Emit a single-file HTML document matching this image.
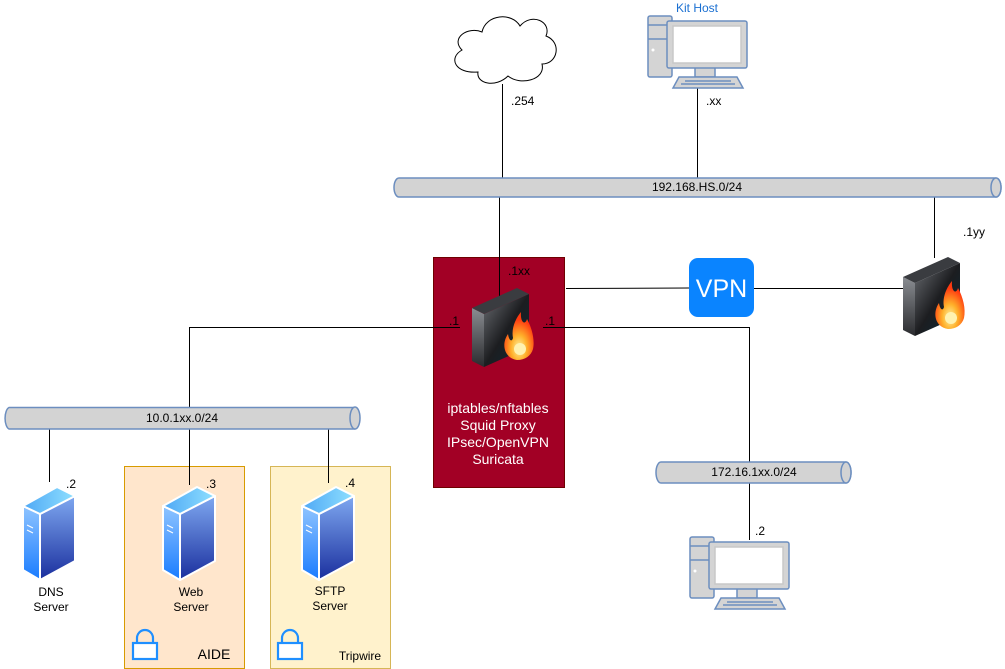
<!DOCTYPE html>
<html><head><meta charset="utf-8"><style>
html,body{margin:0;padding:0;background:#fff;}
svg{display:block;font-family:"Liberation Sans",Arial,sans-serif;}
</style></head><body>
<svg width="1005" height="669" viewBox="0 0 1005 669" xmlns="http://www.w3.org/2000/svg">
<defs>
<linearGradient id="srvF" x1="0" y1="0" x2="0" y2="1"><stop offset="0" stop-color="#7fa8f0"/><stop offset="1" stop-color="#1a2f9e"/></linearGradient>
<linearGradient id="srvL" x1="0" y1="0" x2="0" y2="1"><stop offset="0" stop-color="#8fc4ff"/><stop offset="1" stop-color="#1a7cff"/></linearGradient>
<linearGradient id="srvT" x1="0" y1="0" x2="1" y2="0"><stop offset="0" stop-color="#4fa8f5"/><stop offset="1" stop-color="#8fe0ff"/></linearGradient>
<linearGradient id="fwF" x1="0" y1="0" x2="1" y2="1"><stop offset="0" stop-color="#6a6d72"/><stop offset="0.5" stop-color="#1c1d20"/><stop offset="1" stop-color="#0a2a38"/></linearGradient>
<linearGradient id="fwL" x1="0" y1="0" x2="0" y2="1"><stop offset="0" stop-color="#8a8d92"/><stop offset="1" stop-color="#2a2b2e"/></linearGradient>
<radialGradient id="flame" cx="0.5" cy="0.75" r="0.6"><stop offset="0" stop-color="#fff3a0"/><stop offset="0.45" stop-color="#ffb02a"/><stop offset="1" stop-color="#ff3a10"/></radialGradient>
<g id="fw">
<polygon points="1,20 13,26 13,79 1,73" fill="url(#fwL)"/>
<polygon points="13,26 58,6 58,59 13,79" fill="url(#fwF)"/>
<polygon points="1,20 46,0 58,6 13,26" fill="#3a3c40"/>
<path d="M46,72 C33,70 30,56 37,46 C38,53 41,54 42,50 C40,40 45,30 50,24 C49,34 54,38 56,31 C61,40 64,52 62,61 C60,68 54,72 46,72 Z" fill="url(#flame)"/>
<ellipse cx="49" cy="61" rx="6" ry="6" fill="#fff2b0"/>
</g>
<g id="srv">
<polygon points="1,19 18,27 18,93 1,83" fill="url(#srvL)" stroke="#fff" stroke-width="2" stroke-linejoin="round"/>
<polygon points="18,27 53,9 53,74 18,93" fill="url(#srvF)" stroke="#fff" stroke-width="2" stroke-linejoin="round"/>
<polygon points="1,19 35,0 53,9 18,27" fill="url(#srvT)" stroke="#fff" stroke-width="2" stroke-linejoin="round"/>
<line x1="5" y1="38" x2="11" y2="41" stroke="#fff" stroke-width="1"/>
<line x1="5" y1="43" x2="11" y2="46" stroke="#fff" stroke-width="1"/>
</g>
<g id="pc" stroke="#6c8ebf" stroke-width="1.5" fill="#d4d4d4">
<rect x="1" y="1" width="24" height="61" rx="2"/>
<line x1="1" y1="10" x2="25" y2="10"/>
<line x1="1" y1="24" x2="25" y2="24"/>
<circle cx="6" cy="35" r="1.5" fill="#fff" stroke="none"/>
<rect x="48" y="52" width="20" height="10"/>
<rect x="20" y="6" width="80" height="47" rx="2"/>
<rect x="26" y="11" width="68" height="37" fill="#fff" stroke="#c8c8c8"/>
<polygon points="32,62 90,62 96,73 26,73"/>
<line x1="38" y1="66" x2="84" y2="66"/>
<line x1="34" y1="69" x2="88" y2="69"/>
</g>
<g id="lock" fill="none" stroke="#1f8fff" stroke-width="2.2">
<path d="M5,15 V10 A8,8 0 0 1 21,10 V15"/>
<rect x="1" y="15" width="24" height="16" fill="#fff"/>
</g>
</defs>

<rect x="124.5" y="466.5" width="120" height="202" fill="#ffe6cc" stroke="#d79b00"/>
<rect x="270.5" y="466.5" width="120" height="202" fill="#fff2cc" stroke="#d6b656"/>
<rect x="433.5" y="257.5" width="131" height="230" fill="#a20025" stroke="#6f0000"/>

<g stroke="#000" stroke-width="1" fill="none">
<line x1="502.5" y1="84" x2="502.5" y2="178"/>
<line x1="697.5" y1="88" x2="697.5" y2="178"/>
<line x1="499.5" y1="197" x2="499.5" y2="297"/>
<line x1="934.5" y1="197" x2="934.5" y2="258"/>
<polyline points="566,288.5 690,288"/>
<line x1="754" y1="288.5" x2="903" y2="288.5"/>
<polyline points="189.5,407 189.5,327.5 460,327.5"/>
<polyline points="543,327.5 749.5,327.5 749.5,462"/>
<line x1="49.5" y1="429" x2="49.5" y2="482"/>
<line x1="189.5" y1="429" x2="189.5" y2="485"/>
<line x1="328.5" y1="429" x2="328.5" y2="483"/>
<line x1="749.5" y1="483" x2="749.5" y2="540"/>
</g>

<g fill="#d3d3d3" stroke="#6c8ebf" stroke-width="1.5">
<path d="M399,178 H996 A5,9.5 0 0 1 996,197 H399 A5,9.5 0 0 1 399,178 Z"/>
<ellipse cx="996" cy="187.5" rx="5" ry="9.5"/>
<path d="M9,407.5 H355 A5,11 0 0 1 355,429 H9 A5,11 0 0 1 9,407.5 Z"/>
<ellipse cx="355" cy="418" rx="5" ry="11"/>
<path d="M661,462 H846 A5,10.5 0 0 1 846,483 H661 A5,10.5 0 0 1 661,462 Z"/>
<ellipse cx="846" cy="472.5" rx="5" ry="10.5"/>
</g>

<path d="M478,72 C455,74 448,58 462,50 C450,38 468,26 482,32 C486,14 512,12 520,26 C532,12 552,22 546,36 C562,42 558,64 542,64 C546,80 520,86 508,76 C496,88 476,84 478,72 Z" fill="#fff" stroke="#000" stroke-width="1"/>

<use href="#pc" x="647" y="15"/>
<use href="#pc" x="689" y="536"/>

<use href="#fw" x="471" y="288"/>
<use href="#fw" x="902" y="257"/>

<rect x="689" y="258" width="65" height="59" rx="9" fill="#0a84ff"/>
<text x="721.5" y="297" font-size="25" fill="#fff" text-anchor="middle">VPN</text>

<use href="#srv" x="22" y="487"/>
<use href="#srv" x="162" y="487"/>
<use href="#srv" x="301" y="487"/>

<use href="#lock" x="132" y="628"/>
<use href="#lock" x="277" y="628"/>

<g font-size="12" fill="#000">
<text x="697" y="12" text-anchor="middle" fill="#1a6fd1">Kit Host</text>
<text x="511" y="105">.254</text>
<text x="706" y="105">.xx</text>
<text x="697" y="191" text-anchor="middle">192.168.HS.0/24</text>
<text x="508" y="275">.1xx</text>
<text x="963" y="236">.1yy</text>
<text x="449" y="325">.1</text>
<text x="545" y="325">.1</text>
<text x="182" y="422" text-anchor="middle">10.0.1xx.0/24</text>
<text x="754" y="476" text-anchor="middle">172.16.1xx.0/24</text>
<text x="755" y="535">.2</text>
<text x="66" y="488">.2</text>
<text x="206" y="488">.3</text>
<text x="345" y="487">.4</text>
<text x="51" y="596" text-anchor="middle">DNS</text>
<text x="51" y="611" text-anchor="middle">Server</text>
<text x="191" y="596" text-anchor="middle">Web</text>
<text x="191" y="611" text-anchor="middle">Server</text>
<text x="330" y="595" text-anchor="middle">SFTP</text>
<text x="330" y="610" text-anchor="middle">Server</text>
<text x="360" y="660" text-anchor="middle">Tripwire</text>
</g>
<text x="214" y="659" font-size="14" text-anchor="middle">AIDE</text>
<g font-size="14" fill="#fff" text-anchor="middle">
<text x="498" y="413">iptables/nftables</text>
<text x="498" y="430">Squid Proxy</text>
<text x="498" y="447">IPsec/OpenVPN</text>
<text x="498" y="464">Suricata</text>
</g>
</svg>
</body></html>
